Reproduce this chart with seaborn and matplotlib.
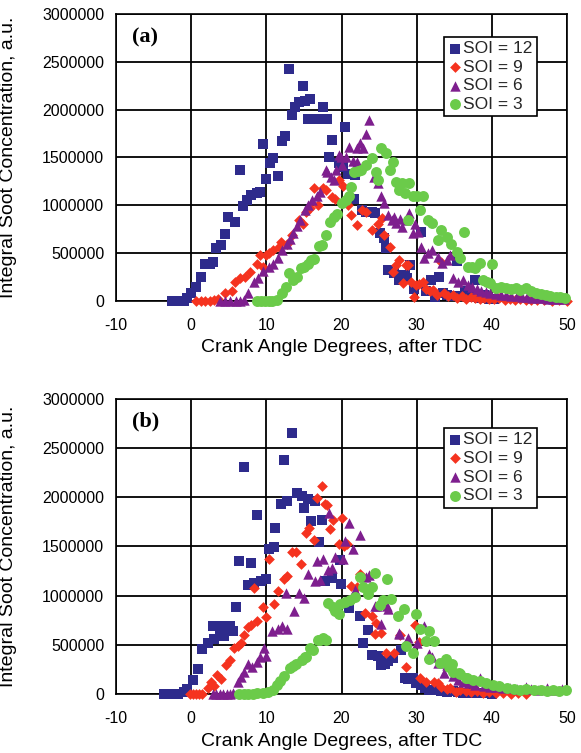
import matplotlib
matplotlib.use("Agg")
import matplotlib.pyplot as plt
import seaborn as sns
import pandas as pd

# ---------------- data (values in millions of a.u.) ----------------
SCALE = 1_000_000
labels = ["SOI = 12", "SOI = 9", "SOI = 6", "SOI = 3"]
x_ticks = [-10, 0, 10, 20, 30, 40, 50]
y_ticks = [0, 500000, 1000000, 1500000, 2000000, 2500000, 3000000]

a_soi12 = [(-2.5,0),(-2.0,0),(-1.5,0),(-1.0,0),(-0.6,0.03),(0.0,0.08),(0.7,0.15),(1.3,0.25),(1.9,0.39),
           (2.5,0.39),(2.9,0.41),(3.3,0.55),(4.0,0.58),(4.5,0.70),(4.9,0.88),(5.8,0.83),(6.5,1.37),(6.9,0.99),
           (7.4,1.06),(8.0,1.11),(8.7,1.13),(9.1,1.14),(9.5,1.64),(10.0,1.27),(10.5,1.44),(10.9,1.49),(11.6,1.31),
           (12.1,1.67),(12.5,1.72),(13.0,2.43),(13.4,1.94),(13.8,2.03),(14.4,2.08),(14.9,2.25),(15.2,2.09),
           (15.6,1.90),(15.8,2.11),(16.3,1.90),(17.2,1.90),(17.5,2.03),(18.1,1.90),(18.4,1.50),(18.8,1.68),
           (19.6,1.44),(20.2,1.40),(20.4,1.82),(20.9,1.33),(21.6,1.07),(21.8,1.32),(22.7,0.95),(23.3,0.93),
           (24.0,0.93),(24.4,0.92),(25.1,0.71),(25.6,0.66),(25.9,0.55),(26.2,0.32),(27.0,0.29),(27.6,0.22),
           (28.0,0.27),(28.4,0.27),(28.7,0.24),(29.1,0.38),(29.7,0.12),(30.6,0.72),(31.2,0.10),(31.9,0.22),
           (32.4,0.04),(33.0,0.25),(33.5,0.08),(34.0,0.06),(34.6,0.05),(35.4,0.42),(35.9,0.05),(36.4,0.10),
           (37.0,0.04),(37.7,0.22),(38.3,0.03),(39.0,0.06),(39.6,0.02),(40.3,0.02)]
a_soi9 = [(0.7,0),(1.3,0),(1.9,0),(2.5,0),(3.1,0.01),(3.6,0.02),(4.5,0.08),(5.4,0.10),(5.8,0.20),(6.5,0.24),
          (7.1,0.25),(7.8,0.30),(8.7,0.39),(9.1,0.48),(9.6,0.36),(10.0,0.48),(10.4,0.50),(10.9,0.53),(11.7,0.56),
          (12.0,0.62),(12.7,0.60),(13.4,0.69),(14.4,0.85),(14.9,0.80),(15.3,0.93),(15.8,0.97),(16.4,1.18),
          (16.9,1.00),(17.5,1.18),(17.9,1.16),(18.8,1.09),(19.2,1.07),(19.7,1.26),(20.2,1.20),(20.8,1.00),
          (21.3,0.90),(22.1,0.79),(22.7,0.95),(23.3,0.93),(24.1,0.74),(24.8,0.80),(25.4,0.87),(25.7,0.69),
          (26.4,0.56),(26.8,0.30),(27.2,0.38),(27.7,0.43),(28.2,0.19),(28.6,0.38),(28.9,0.38),(29.3,0.20),
          (29.7,0.04),(29.9,0.17),(30.3,0.18),(30.8,0.20),(31.3,0.12),(31.8,0.10),(32.2,0.11),(32.7,0.06),
          (33.3,0.41),(33.7,0.08),(34.2,0.05),(34.8,0.06),(35.4,0.03),(36.0,0.05),(36.6,0.02),(37.2,0.04),
          (37.8,0.03),(38.4,0.02),(39.0,0.03),(39.6,0.02),(40.3,0.02),(41.0,0.03),(41.7,0.01),(42.4,0.02),
          (43.1,0.01),(43.8,0.02),(44.5,0.01),(45.2,0.01),(46.0,0.01),(47.0,0.01),(48.0,0.0),(49.0,0.01),(50.0,0.0)]
a_soi6 = [(3.8,0),(4.5,0),(5.2,0),(5.9,0),(6.5,0),(7.0,0.01),(7.6,0.08),(8.3,0.20),(8.9,0.24),(9.6,0.31),
          (10.3,0.36),(10.9,0.39),(11.5,0.45),(12.1,0.53),(12.7,0.60),(13.2,0.65),(13.6,0.71),(14.1,0.78),
          (14.5,0.85),(15.2,0.95),(15.6,1.00),(16.1,1.06),(16.7,1.10),(17.2,1.14),(17.9,1.37),(18.1,1.35),
          (18.6,1.30),(19.0,1.26),(19.3,1.37),(19.6,1.53),(19.9,1.51),(20.1,1.42),(20.6,1.50),(21.0,1.61),
          (21.5,1.46),(22.0,1.60),(22.1,1.45),(22.5,1.65),(22.9,1.60),(23.3,1.75),(23.7,1.89),(24.3,1.30),
          (24.8,1.23),(25.3,1.10),(25.7,1.02),(26.2,0.90),(26.7,0.85),(27.0,0.88),(27.3,0.82),(27.8,0.86),
          (28.1,0.77),(28.6,0.85),(29.0,0.92),(29.5,0.71),(29.8,0.80),(30.2,0.72),(30.6,0.56),(31.0,0.45),
          (31.5,0.50),(32.1,0.53),(32.8,0.46),(33.4,0.40),(34.0,0.43),(34.4,0.48),(34.8,0.24),(35.5,0.20),
          (36.1,0.22),(36.8,0.17),(37.4,0.15),(38.0,0.12),(38.6,0.10),(39.2,0.09),(39.8,0.08),(40.5,0.07),
          (41.2,0.06),(41.9,0.06),(42.6,0.05),(43.3,0.05),(44.0,0.04),(44.7,0.04),(45.4,0.03),(46.1,0.03),
          (46.8,0.03),(47.5,0.02),(48.2,0.02),(48.9,0.02),(49.6,0.02)]
a_soi3 = [(8.7,0),(9.3,0),(9.8,0),(10.3,0),(10.8,0),(11.4,0.01),(12.1,0.08),(12.6,0.15),(13.0,0.29),(13.5,0.22),
          (14.1,0.25),(14.6,0.34),(15.0,0.36),(15.5,0.39),(15.9,0.43),(16.4,0.44),(17.0,0.57),(17.4,0.59),
          (17.9,0.69),(18.5,0.83),(19.0,0.88),(19.4,0.91),(20.0,1.02),(20.6,1.06),(21.0,1.10),(21.3,1.19),
          (21.7,1.35),(22.2,1.36),(22.6,1.37),(23.3,1.42),(24.0,1.49),(24.6,1.35),(24.8,1.26),(25.3,1.60),
          (25.9,1.55),(26.4,1.37),(26.8,1.45),(27.3,1.24),(27.7,1.16),(28.0,1.23),(28.4,1.13),(28.8,0.85),
          (29.0,1.23),(29.5,1.10),(30.0,1.10),(30.4,0.95),(30.8,1.10),(31.5,0.85),(32.0,0.82),(32.8,0.64),
          (33.2,0.74),(34.1,0.67),(34.6,0.60),(35.3,0.51),(35.7,0.45),(36.3,0.72),(36.8,0.36),(37.3,0.36),
          (37.7,0.34),(38.4,0.40),(38.8,0.22),(39.3,0.20),(39.7,0.19),(40.0,0.39),(40.6,0.14),(41.2,0.15),
          (41.9,0.14),(42.5,0.12),(43.2,0.14),(43.8,0.11),(44.6,0.14),(45.2,0.10),(45.9,0.08),(46.5,0.07),
          (47.2,0.06),(47.8,0.05),(48.5,0.04),(49.1,0.04),(49.7,0.03)]

b_soi12 = [(-3.6,0),(-2.7,0),(-1.8,0),(-0.9,0.02),(-0.5,0.05),(0.2,0.14),(0.9,0.25),(1.5,0.46),(2.2,0.52),
           (2.9,0.69),(3.1,0.56),(3.7,0.69),(3.8,0.59),(4.4,0.59),(4.5,0.69),(5.1,0.69),(5.5,0.64),(5.9,0.88),
           (6.4,1.35),(7.0,2.31),(7.5,1.11),(7.9,1.33),(8.4,1.13),(8.8,1.82),(9.3,1.15),(9.9,1.17),(10.4,1.47),
           (11.0,1.49),(11.2,1.69),(11.9,1.93),(12.3,2.38),(12.8,1.96),(13.4,2.65),(14.1,2.04),(14.8,2.01),
           (15.0,1.89),(15.6,1.98),(15.9,1.76),(16.5,1.96),(17.0,1.55),(17.4,1.77),(17.8,1.15),(18.8,1.18),
           (19.8,1.36),(19.9,1.12),(21.0,0.87),(22.5,0.79),(22.9,0.52),(23.5,0.65),(24.0,0.40),(24.8,0.39),
           (25.3,0.29),(25.8,0.30),(26.2,0.34),(26.8,0.37),(27.9,0.45),(28.4,0.16),(28.8,0.15),(29.5,0.16),
           (29.9,0.11),(30.6,0.09),(31.1,0.06),(31.7,0.04),(32.5,0.04),(33.3,0.03),(34.0,0.02),(34.8,0.03),
           (35.5,0.02),(36.2,0.01),(37.0,0.01),(38.0,0.01),(39.0,0.01),(40.0,0.0)]
b_soi9 = [(-0.2,0),(0.3,0),(0.7,0),(1.1,0),(1.5,0),(2.2,0.06),(2.6,0.12),(3.0,0.08),(3.5,0.19),(4.0,0.15),
          (4.6,0.29),(5.1,0.35),(5.7,0.47),(6.2,0.49),(6.6,0.52),(7.0,0.60),(7.5,0.68),(8.0,0.70),(8.4,1.08),
          (8.8,0.74),(9.5,0.88),(9.9,0.78),(10.4,1.37),(11.0,0.91),(11.5,1.05),(12.3,1.17),(12.8,1.20),
          (13.4,1.44),(13.9,1.44),(14.6,1.32),(15.3,1.64),(15.7,1.69),(16.3,1.57),(16.7,1.99),(17.4,2.11),
          (17.8,1.93),(18.1,1.92),(18.5,1.68),(18.9,1.77),(19.6,1.52),(20.0,1.79),(20.3,1.50),(20.7,1.52),
          (21.2,1.10),(22.0,1.09),(22.4,1.22),(23.1,0.82),(24.0,0.79),(24.4,0.61),(24.6,0.72),(25.3,0.62),
          (25.9,0.42),(27.0,0.42),(27.8,0.60),(28.6,0.27),(29.8,0.70),(30.3,0.53),(30.4,0.16),(31.2,0.12),
          (32.3,0.12),(32.9,0.11),(33.2,0.07),(34.0,0.05),(34.4,0.06),(35.2,0.02),(35.8,0.04),(36.5,0.03),
          (37.2,0.02),(38.0,0.03),(38.8,0.01),(39.6,0.02),(40.5,0.01),(41.5,0.01),(42.5,0.0),(43.5,0.01),(44.5,0.0)]
b_soi6 = [(2.9,0),(3.3,0),(3.8,0),(4.2,0),(4.7,0),(5.1,0),(5.6,0.01),(6.2,0.12),(6.6,0.17),(7.0,0.22),
          (7.5,0.30),(8.1,0.27),(8.8,0.32),(9.2,0.38),(9.7,0.47),(9.9,0.39),(10.8,0.64),(11.5,0.66),(12.1,0.69),
          (12.6,1.03),(12.8,0.66),(13.7,0.84),(14.3,1.03),(15.0,0.98),(15.6,1.22),(16.5,1.15),(16.7,1.35),
          (17.1,1.16),(17.6,1.37),(18.2,1.26),(18.4,1.84),(18.8,1.28),(19.1,1.39),(20.2,1.37),(20.4,1.56),
          (21.0,1.74),(21.5,1.47),(21.8,1.06),(22.4,1.62),(23.3,1.19),(23.6,1.21),(24.4,0.89),(24.7,0.89),
          (25.3,0.71),(26.0,0.89),(26.2,0.86),(27.6,0.62),(27.7,0.61),(28.7,0.54),(28.8,0.57),(30.1,0.52),
          (31.0,0.69),(31.7,0.41),(32.0,0.38),(32.8,0.31),(33.6,0.21),(34.1,0.29),(34.8,0.18),(35.5,0.14),
          (36.2,0.12),(37.0,0.11),(37.8,0.09),(38.4,0.16),(39.0,0.08),(39.8,0.07),(40.6,0.07),(41.5,0.06),
          (42.4,0.06),(43.3,0.05),(44.6,0.07),(45.2,0.05),(46.2,0.04),(47.4,0.06),(48.2,0.04),(49.4,0.05)]
b_soi3 = [(6.4,0),(7.0,0),(7.6,0),(8.2,0),(8.7,0.01),(9.6,0.01),(10.2,0.02),(10.9,0.04),(11.4,0.09),
          (11.8,0.13),(12.4,0.18),(13.1,0.26),(13.6,0.28),(14.0,0.30),(14.7,0.35),(15.1,0.38),(15.3,0.38),
          (15.8,0.47),(16.2,0.45),(16.9,0.55),(17.1,0.55),(17.6,0.57),(18.0,0.55),(18.2,0.92),(18.9,0.88),
          (19.1,0.84),(19.6,0.81),(19.8,0.91),(20.4,0.94),(21.1,0.96),(21.8,0.99),(22.4,1.19),(22.9,1.09),
          (23.5,1.02),(24.0,1.09),(24.4,1.23),(25.1,0.90),(25.5,0.96),(26.0,1.17),(26.6,0.97),(27.5,0.79),
          (28.3,0.86),(28.6,0.49),(29.5,0.42),(29.9,0.81),(30.4,0.66),(31.2,0.54),(31.6,0.64),(31.7,0.36),
          (32.3,0.54),(33.1,0.31),(33.9,0.36),(34.3,0.27),(34.7,0.30),(34.8,0.22),(35.6,0.21),(35.8,0.20),
          (36.5,0.16),(36.7,0.16),(37.5,0.14),(38.4,0.13),(39.2,0.11),(40.2,0.09),(41.0,0.08),(42.0,0.06),
          (42.9,0.05),(43.8,0.04),(44.6,0.05),(45.6,0.04),(46.5,0.04),(47.3,0.03),(48.2,0.04),(49.0,0.03),(49.9,0.04)]

panels = [("(a)", [a_soi12, a_soi9, a_soi6, a_soi3]),
          ("(b)", [b_soi12, b_soi9, b_soi6, b_soi3])]

# ---------------- styling ----------------
colors = ["#2E2B8C", "#F5331F", "#7E1F8E", "#6BCB4A"]
markers = ["s", "D", "^", "o"]
sizes = [44, 30, 56, 62]

sns.set_theme(style="white")
plt.rcParams["font.family"] = ["Liberation Sans", "DejaVu Sans"]

fig = plt.figure(figsize=(5.81, 7.53), dpi=100)
ax_a = fig.add_axes([0.1997, 0.6003, 0.7762, 0.3811])
ax_b = fig.add_axes([0.1997, 0.0784, 0.7762, 0.3918])

legend_anchor = [(0.933, 0.921), (0.933, 0.902)]
tag_y = [0.918, 0.925]

for i, (ax, (tag, series)) in enumerate(zip([ax_a, ax_b], panels)):
    for lab, pts, c, m, s in zip(labels, series, colors, markers, sizes):
        df = pd.DataFrame(pts, columns=["cad", "soot"])
        df["soot"] = df["soot"] * SCALE
        sns.scatterplot(data=df, x="cad", y="soot", ax=ax, color=c, marker=m, s=s,
                        linewidth=0, label=lab, clip_on=False, zorder=3)
    ax.set_xlim(-10, 50)
    ax.set_ylim(0, 3000000)
    ax.set_xticks(x_ticks)
    ax.set_xticklabels([str(t) for t in x_ticks])
    ax.set_yticks(y_ticks)
    ax.set_yticklabels([str(t) for t in y_ticks])
    ax.grid(True, color="black", linewidth=1.3)
    ax.set_axisbelow(True)
    for sp in ax.spines.values():
        sp.set_color("black")
        sp.set_linewidth(1.2)
    ax.tick_params(axis="both", direction="inout", length=5, width=1.2, color="black",
                   labelsize=11.5, labelcolor="black")
    ax.tick_params(axis="x", pad=9.5)
    ax.tick_params(axis="y", pad=6)
    ax.set_xlabel("Crank Angle Degrees, after TDC", fontsize=14, color="black")
    ax.set_ylabel("Integral Soot Concentration, a.u.", fontsize=14, color="black")
    ax.xaxis.set_label_coords(0.5, -0.133)
    ax.yaxis.set_label_coords(-0.2195, 0.5)
    ax.text(0.035, tag_y[i], tag, transform=ax.transAxes, fontfamily="Liberation Serif",
            fontweight="bold", fontsize=16, va="center", ha="left", color="black")
    leg = ax.legend(loc="upper right", bbox_to_anchor=legend_anchor[i], frameon=True,
                    fancybox=False, framealpha=1, edgecolor="black", fontsize=12.5,
                    borderpad=0.25, labelspacing=0.2, handletextpad=0.05, handlelength=0.8,
                    borderaxespad=0)
    leg.get_frame().set_linewidth(1.2)

fig.savefig("out.png", dpi=100)
